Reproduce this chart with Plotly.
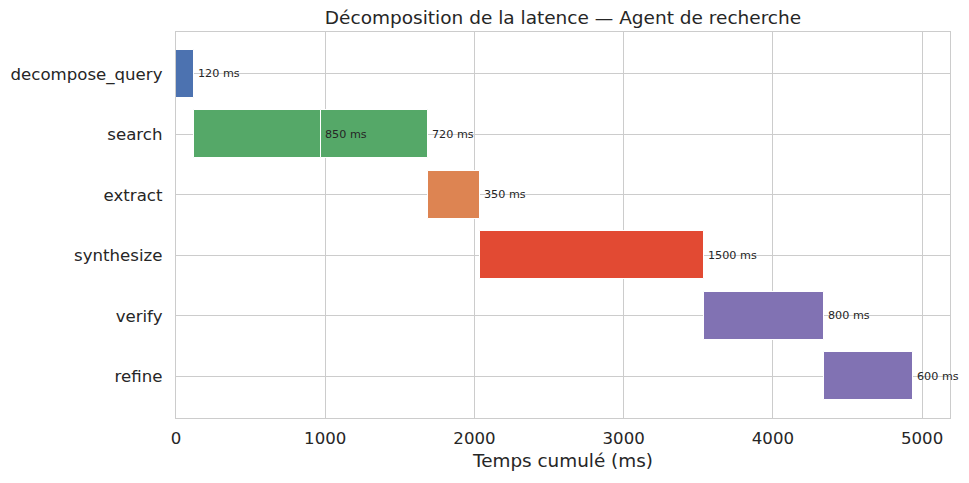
import plotly.graph_objects as go

steps = ["decompose_query", "search", "search", "extract", "synthesize", "verify", "refine"]
rows = ["decompose_query", "search", "extract", "synthesize", "verify", "refine"]
starts = [0, 120, 970, 1690, 2040, 3540, 4340]
durations = [120, 850, 720, 350, 1500, 800, 600]
colors = ["#4C72B0", "#55A868", "#55A868", "#DD8452", "#E24A33", "#8172B3", "#8172B3"]
xticks = [0, 1000, 2000, 3000, 4000, 5000]

row_index = {r: i for i, r in enumerate(rows)}
ypos = [row_index[s] for s in steps]

W, H = 953, 467
L, R, T, B = 168, 11, 24, 57

fig = go.Figure()
fig.add_trace(go.Bar(
    y=ypos, x=durations, base=starts, orientation="h",
    marker=dict(color=colors, line=dict(color="white", width=1)),
    width=0.8, showlegend=False, hoverinfo="skip",
))

for s, d, y in zip(starts, durations, ypos):
    fig.add_annotation(x=s + d, y=y, text=f"{d} ms", showarrow=False,
                       xanchor="left", yanchor="middle", xshift=2,
                       font=dict(family="DejaVu Sans", size=11.2, color="#262626"))

fig.update_layout(
    width=W, height=H,
    margin=dict(l=L, r=R, t=T, b=B),
    paper_bgcolor="white", plot_bgcolor="white",
    font=dict(family="DejaVu Sans", color="#262626"),
    title=dict(text="Décomposition de la latence — Agent de recherche",
               x=(L + (W - R)) / 2 / W, xanchor="center", y=1 - 10 / H, yanchor="middle",
               font=dict(size=18.5, color="#262626")),
    bargap=0,
)
fig.update_xaxes(range=[0, 5187], tickvals=xticks, ticktext=[str(t) for t in xticks],
                 showgrid=True, gridcolor="#cccccc", gridwidth=1.1,
                 showline=True, linecolor="#cccccc", linewidth=1.4, mirror=True,
                 zeroline=False, ticks="", tickfont=dict(size=16.6), ticklabelstandoff=5,
                 automargin=False,
                 title=dict(text="Temps cumulé (ms)", font=dict(size=18.4), standoff=6))
fig.update_yaxes(range=[5.69, -0.69], tickvals=list(range(len(rows))), ticktext=rows,
                 showgrid=True, gridcolor="#cccccc", gridwidth=1.1,
                 showline=True, linecolor="#cccccc", linewidth=1.4, mirror=True,
                 zeroline=False, ticks="", tickfont=dict(size=16.6), ticklabelstandoff=9,
                 automargin=False)

fig.write_html("out.html")
